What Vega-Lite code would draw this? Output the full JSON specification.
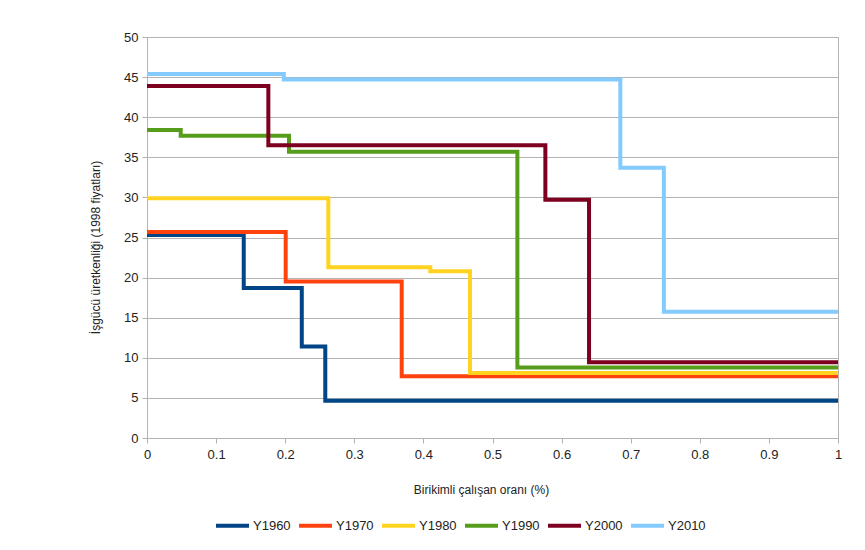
{
  "$schema": "https://vega.github.io/schema/vega-lite/v6.json",
  "width": 691,
  "height": 401,
  "autosize": {"type": "none"},
  "padding": {"left": 147, "top": 37, "right": 27, "bottom": 112},
  "background": "white",
  "config": {
    "font": "Liberation Sans",
    "view": {"stroke": "#b3b3b3", "strokeWidth": 1},
    "axis": {
      "labelFont": "Liberation Sans",
      "labelFontSize": 13,
      "labelColor": "#222222",
      "titleFont": "Liberation Sans",
      "titleFontSize": 12,
      "titleFontWeight": "normal",
      "titleColor": "#222222",
      "domainColor": "#b3b3b3",
      "tickColor": "#b3b3b3",
      "gridColor": "#b3b3b3",
      "tickSize": 5
    }
  },
  "data": {
    "values": [
      {"x": 0, "y": 25.3, "s": "Y1960"},
      {"x": 0.14, "y": 18.7, "s": "Y1960"},
      {"x": 0.224, "y": 11.4, "s": "Y1960"},
      {"x": 0.258, "y": 4.65, "s": "Y1960"},
      {"x": 1, "y": 4.65, "s": "Y1960"},
      {"x": 0, "y": 25.7, "s": "Y1970"},
      {"x": 0.2007, "y": 19.5, "s": "Y1970"},
      {"x": 0.3686, "y": 7.7, "s": "Y1970"},
      {"x": 1, "y": 7.7, "s": "Y1970"},
      {"x": 0, "y": 29.9, "s": "Y1980"},
      {"x": 0.2624, "y": 21.3, "s": "Y1980"},
      {"x": 0.41, "y": 20.8, "s": "Y1980"},
      {"x": 0.4674, "y": 8.1, "s": "Y1980"},
      {"x": 1, "y": 8.1, "s": "Y1980"},
      {"x": 0, "y": 38.4, "s": "Y1990"},
      {"x": 0.0488, "y": 37.7, "s": "Y1990"},
      {"x": 0.2055, "y": 35.7, "s": "Y1990"},
      {"x": 0.536, "y": 8.8, "s": "Y1990"},
      {"x": 1, "y": 8.8, "s": "Y1990"},
      {"x": 0, "y": 43.9, "s": "Y2000"},
      {"x": 0.1756, "y": 36.5, "s": "Y2000"},
      {"x": 0.5765, "y": 29.7, "s": "Y2000"},
      {"x": 0.6397, "y": 9.43, "s": "Y2000"},
      {"x": 1, "y": 9.43, "s": "Y2000"},
      {"x": 0, "y": 45.4, "s": "Y2010"},
      {"x": 0.198, "y": 44.7, "s": "Y2010"},
      {"x": 0.685, "y": 33.7, "s": "Y2010"},
      {"x": 0.748, "y": 15.75, "s": "Y2010"},
      {"x": 1, "y": 15.75, "s": "Y2010"}
    ]
  },
  "mark": {"type": "line", "interpolate": "step-after", "strokeWidth": 4, "clip": true},
  "encoding": {
    "x": {
      "field": "x",
      "type": "quantitative",
      "scale": {"domain": [0, 1], "nice": false},
      "axis": {
        "title": "Birikimli çalışan oranı (%)",
        "values": [0, 0.1, 0.2, 0.3, 0.4, 0.5, 0.6, 0.7, 0.8, 0.9, 1],
        "format": "~g",
        "grid": false,
        "labelFlush": false,
        "labelPadding": 5,
        "titleX": 334,
        "titleY": 51,
        "titleBaseline": "middle"
      }
    },
    "y": {
      "field": "y",
      "type": "quantitative",
      "scale": {"domain": [0, 50], "nice": false},
      "axis": {
        "title": "İşgücü üretkenliği (1998 fiyatları)",
        "values": [0, 5, 10, 15, 20, 25, 30, 35, 40, 45, 50],
        "grid": true,
        "labelPadding": 4,
        "titleX": -52,
        "titleY": 210,
        "titleBaseline": "middle",
        "titleAngle": -90
      }
    },
    "color": {
      "field": "s",
      "type": "nominal",
      "scale": {
        "domain": ["Y1960", "Y1970", "Y1980", "Y1990", "Y2000", "Y2010"],
        "range": ["#004586", "#ff420e", "#ffd320", "#579d1c", "#7e0021", "#83caff"]
      },
      "legend": {
        "title": null,
        "orient": "none",
        "direction": "horizontal",
        "columns": 6,
        "legendX": 67,
        "legendY": 470,
        "symbolType": "stroke",
        "symbolSize": 1089,
        "symbolStrokeWidth": 4,
        "labelFont": "Liberation Sans",
        "labelFontSize": 13,
        "labelColor": "#222222",
        "labelOffset": 2,
        "columnPadding": 0
      }
    }
  }
}
